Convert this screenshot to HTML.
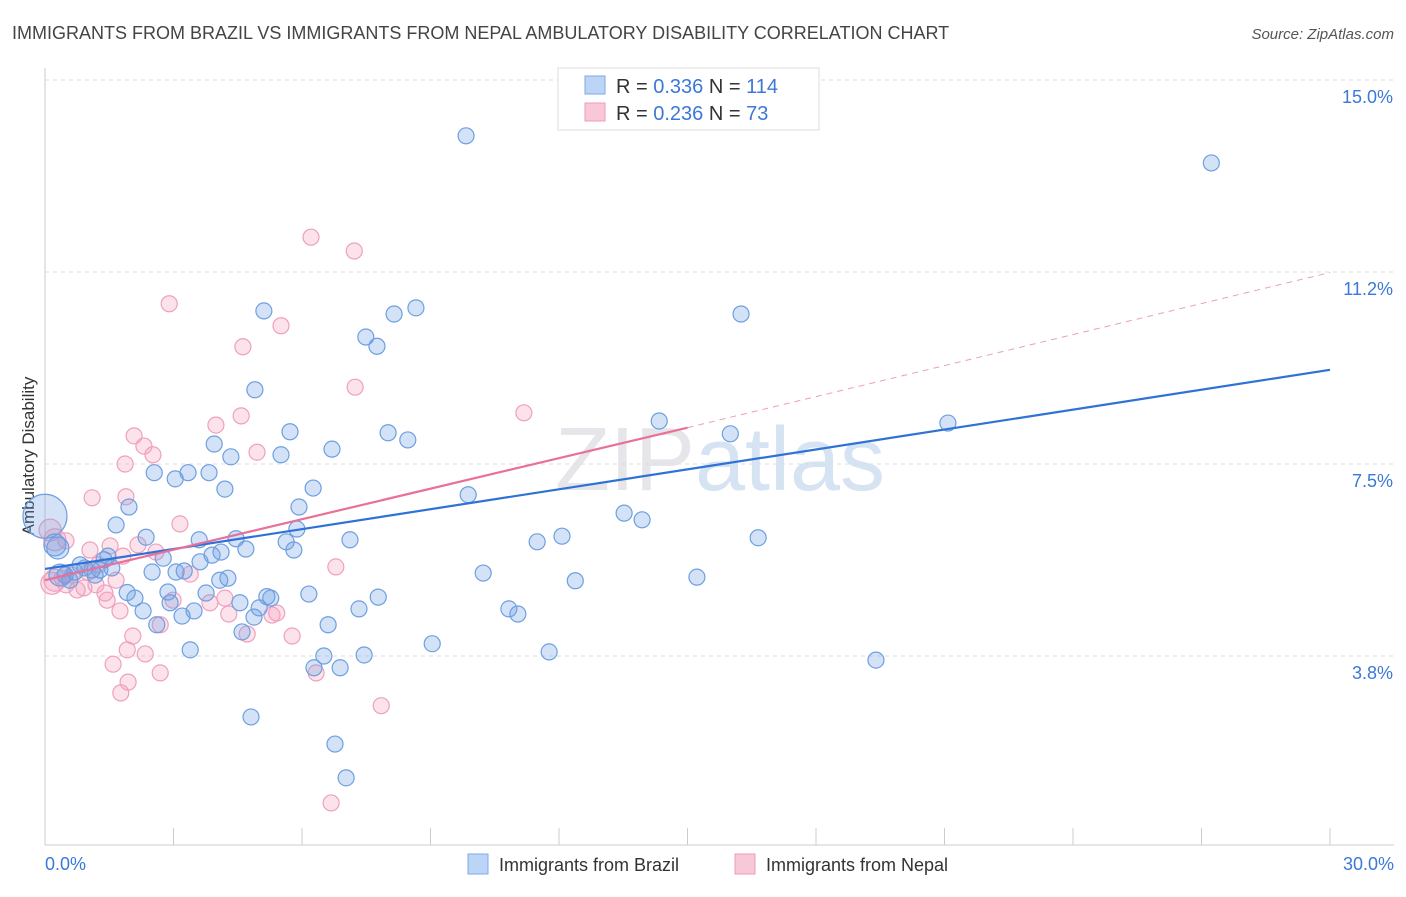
<!DOCTYPE html>
<html><head><meta charset="utf-8"><style>
body{margin:0;background:#fff;font-family:"Liberation Sans",sans-serif;}
svg text{font-family:"Liberation Sans",sans-serif;}
</style></head><body>
<svg id="chart" width="1406" height="892" xmlns="http://www.w3.org/2000/svg">
<text x="12" y="39" font-size="18" fill="#444">IMMIGRANTS FROM BRAZIL VS IMMIGRANTS FROM NEPAL AMBULATORY DISABILITY CORRELATION CHART</text>
<text x="1394" y="39" font-size="15" fill="#555" text-anchor="end" font-style="italic">Source: ZipAtlas.com</text>
<text x="720" y="490" font-size="90" text-anchor="middle" fill="#e6e6ea" font-family="Liberation Serif">ZIP<tspan fill="#d6e3f3" font-family="Liberation Sans">atlas</tspan></text>
<text transform="translate(34,456) rotate(-90)" font-size="17" fill="#333" text-anchor="middle">Ambulatory Disability</text>
<g id="grid"></g>
<g id="marks"></g>
<g>
<rect x="558" y="68" width="261" height="62" fill="#fff" stroke="#ddd"/>
<rect x="585" y="76" width="20" height="18" fill="#bcd4f5" stroke="#7ea8e6"/>
<text x="616" y="93" font-size="20" fill="#333">R = <tspan fill="#3b78d8">0.336</tspan>   N = <tspan fill="#3b78d8">114</tspan></text>
<rect x="585" y="103" width="20" height="18" fill="#f8c8d8" stroke="#ef9ab8"/>
<text x="616" y="120" font-size="20" fill="#333">R = <tspan fill="#3b78d8">0.236</tspan>   N = <tspan fill="#3b78d8"> 73</tspan></text>
</g>
<g>
<rect x="468" y="854" width="20" height="20" fill="#bcd4f5" stroke="#7ea8e6"/>
<text x="499" y="871" font-size="18" fill="#333">Immigrants from Brazil</text>
<rect x="735" y="854" width="20" height="20" fill="#f8c8d8" stroke="#ef9ab8"/>
<text x="766" y="871" font-size="18" fill="#333">Immigrants from Nepal</text>
</g>
</svg>
<script>
const yTicks=[3.75,7.5,11.25,15];
const yTickLabels=["3.8%","7.5%","11.2%","15.0%"];
const xTickVals=[0,3,6,9,12,15,18,21,24,27,30];
const xEndLabels=["0.0%","30.0%"];
const brazilX=[9.83,27.23,5.11,8.66,8.15,16.25,7.49,7.75,4.90,5.72,8.01,8.47,14.34,16.00,21.08,3.95,6.70,4.34,5.51,2.55,3.34,3.83,3.04,4.20,6.26,9.88,5.93,1.96,13.52,13.94,1.66,5.88,2.36,4.46,7.12,11.49,12.07,16.65,3.60,5.63,4.69,4.11,5.81,3.90,2.76,3.62,2.50,3.06,3.25,4.27,4.08,10.23,12.38,15.22,1.92,2.87,2.10,3.76,6.16,5.18,5.27,7.78,2.92,2.29,3.48,4.55,5.00,7.33,10.83,11.04,3.20,4.88,2.61,6.61,4.60,9.04,3.39,6.51,7.45,11.77,19.40,6.28,6.89,4.81,6.77,7.03,0.23,0.30,0.47,0.70,0.93,1.10,1.28,1.38,1.47,1.56,1.17,0.82,0.35,0.58,0.0];
const brazilY=[13.91,13.38,10.49,10.55,10.43,10.43,9.98,9.80,8.95,8.13,8.11,7.97,8.34,8.09,8.30,7.89,7.79,7.64,7.68,7.33,7.33,7.33,7.21,7.01,7.03,6.90,6.66,6.66,6.54,6.41,6.31,6.23,6.07,6.04,6.02,5.98,6.09,6.06,6.02,5.98,5.84,5.78,5.82,5.72,5.66,5.59,5.39,5.39,5.41,5.27,5.23,5.37,5.22,5.29,4.99,5.00,4.88,4.98,4.96,4.91,4.88,4.90,4.79,4.63,4.63,4.79,4.69,4.67,4.67,4.57,4.53,4.51,4.36,4.36,4.22,3.99,3.87,3.75,3.77,3.83,3.67,3.52,3.52,2.56,2.03,1.37,5.92,5.86,5.33,5.39,5.47,5.43,5.43,5.63,5.70,5.47,5.33,5.53,5.33,5.23,6.48];
const nepalX=[6.21,7.22,2.90,5.51,4.62,7.24,11.18,4.58,3.99,2.08,2.31,2.52,4.95,1.87,1.10,1.89,3.15,0.49,1.52,2.17,1.05,2.59,1.82,3.39,6.79,1.66,1.19,0.91,0.49,1.40,0.75,1.45,2.99,3.85,4.20,1.75,4.29,5.30,5.41,2.69,2.05,4.72,5.77,1.92,2.34,1.59,2.69,6.33,1.94,1.77,7.85,6.68,0.12,0.23,0.23,0.40,0.63,1.00,1.24,0.16];
const nepalY=[11.93,11.66,10.63,10.20,9.79,9.00,8.50,8.44,8.26,8.05,7.85,7.68,7.73,7.50,6.84,6.86,6.33,6.00,5.90,5.92,5.82,5.78,5.70,5.35,5.49,5.23,5.14,5.08,5.14,4.98,5.04,4.84,4.84,4.79,4.88,4.63,4.57,4.55,4.59,4.36,4.14,4.18,4.14,3.87,3.79,3.59,3.42,3.42,3.24,3.03,2.78,0.88,6.21,6.02,5.23,5.27,5.33,5.39,5.53,5.17];
const brazilTrend=[5.45,9.34];
const nepalTrend=[5.23,8.21,11.24];
const nepalSolidEnd=15;
const NS="http://www.w3.org/2000/svg";
const X=v=>45+v/30*1285;
const Y=v=>848-v*51.2;
function mk(t,a,p){const e=document.createElementNS(NS,t);for(const k in a)e.setAttribute(k,a[k]);p.appendChild(e);return e;}
const grid=document.getElementById('grid'),marks=document.getElementById('marks');
yTicks.forEach((v,i)=>{
 const l=mk('line',{x1:45,x2:1394,y1:Y(v),y2:Y(v),stroke:'#ddd','stroke-dasharray':'4,4'},grid);
 
 
 const t=mk('text',{x:1393,y:Y(v)+23,'font-size':18,fill:'#3b78d8','text-anchor':'end'},grid);
 t.textContent=yTickLabels[i];
 
 
});
const ax=mk('line',{x1:45,x2:1394,y1:845,y2:845,stroke:'#ccc'},grid);


const ay=mk('line',{x1:45,x2:45,y1:68,y2:845,stroke:'#ccc'},grid);


xTickVals.forEach(v=>{
 const l=mk('line',{x1:X(v),x2:X(v),y1:828,y2:845,stroke:'#ccc'},grid);
 
 
});
[[0,'start'],[30,'end']].forEach((p,i)=>{
 const t=mk('text',{x:i?1394:45,y:870,'font-size':18,fill:'#3b78d8','text-anchor':p[1]},grid);
 t.textContent=xEndLabels[i];
 
 
});
function pts(xs,ys,fill,stroke,name){
 xs.forEach((x,i)=>{
  const r=(x===0&&name==='brazil-point')?22:(x<0.4?11:8);
  const c=mk('circle',{cx:X(x),cy:Y(ys[i]),r:r,fill:fill,stroke:stroke,'stroke-width':1.2},marks);
  
  
 });
}
pts(nepalX,nepalY,'rgba(244,160,190,0.3)','#efa0bd','nepal-point');
pts(brazilX,brazilY,'rgba(110,160,230,0.3)','#6e9fe0','brazil-point');
const bl=mk('line',{x1:X(0),y1:Y(brazilTrend[0]),x2:X(30),y2:Y(brazilTrend[1]),stroke:'#2f72d6','stroke-width':2.2},marks);


const nl=mk('line',{x1:X(0),y1:Y(nepalTrend[0]),x2:X(nepalSolidEnd),y2:Y(nepalTrend[1]),stroke:'#e8709a','stroke-width':2.2},marks);


const nd=mk('line',{x1:X(nepalSolidEnd),y1:Y(nepalTrend[1]),x2:X(30),y2:Y(nepalTrend[2]),stroke:'#e8a0b8','stroke-width':1,'stroke-dasharray':'6,5'},marks);


</script>
</body></html>
